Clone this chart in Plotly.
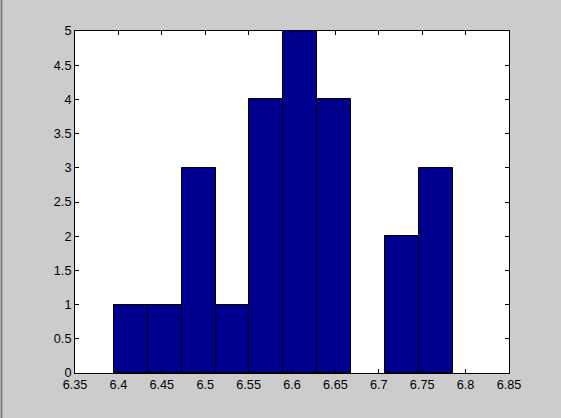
import plotly.graph_objects as go

# hist() output: bin centres and counts
bin_centers = [6.4145, 6.4535, 6.4925, 6.5315, 6.5705, 6.6095, 6.6485, 6.6875, 6.7265, 6.7655]
counts = [1, 1, 3, 1, 4, 5, 4, 0, 2, 3]
bin_width = 0.039

x_ticks = [6.35, 6.4, 6.45, 6.5, 6.55, 6.6, 6.65, 6.7, 6.75, 6.8, 6.85]
x_labels = ["6.35", "6.4", "6.45", "6.5", "6.55", "6.6", "6.65", "6.7", "6.75", "6.8", "6.85"]
y_ticks = [0, 0.5, 1, 1.5, 2, 2.5, 3, 3.5, 4, 4.5, 5]
y_labels = ["0", "0.5", "1", "1.5", "2", "2.5", "3", "3.5", "4", "4.5", "5"]

fig = go.Figure()
fig.add_trace(
    go.Bar(
        x=bin_centers,
        y=counts,
        width=bin_width,
        marker=dict(
            color="rgb(0,0,143)",
            line=dict(color="black", width=[0 if c == 0 else 1 for c in counts]),
        ),
        showlegend=False,
        hoverinfo="x+y",
    )
)

axis_style = dict(
    showgrid=False,
    zeroline=False,
    showline=True,
    linecolor="black",
    linewidth=1,
    mirror="allticks",
    ticks="inside",
    ticklen=4,
    tickcolor="black",
    layer="above traces",
    tickfont=dict(family="Liberation Sans, Arial", size=12.7, color="black"),
)

fig.update_layout(
    width=561,
    height=418,
    paper_bgcolor="#cccccc",
    plot_bgcolor="#ffffff",
    margin=dict(l=75, r=52, t=31, b=45),
    bargap=0,
    xaxis=dict(
        range=[6.35, 6.85],
        tickmode="array",
        tickvals=x_ticks,
        ticktext=x_labels,
        **axis_style,
    ),
    yaxis=dict(
        range=[0, 5],
        tickmode="array",
        tickvals=y_ticks,
        ticktext=y_labels,
        **axis_style,
    ),
)

# window frame line on the left edge
fig.add_shape(
    type="line", xref="paper", yref="paper",
    x0=-73.5 / 434, x1=-73.5 / 434, y0=-45 / 342, y1=31 / 342 + 1,
    line=dict(color="#808080", width=2),
)

# drop the page margin so the figure fills the window
fig.write_html(
    "out.html",
    config={"displayModeBar": False},
    post_script="document.body.style.margin='0';document.body.style.background='#cccccc';",
)
